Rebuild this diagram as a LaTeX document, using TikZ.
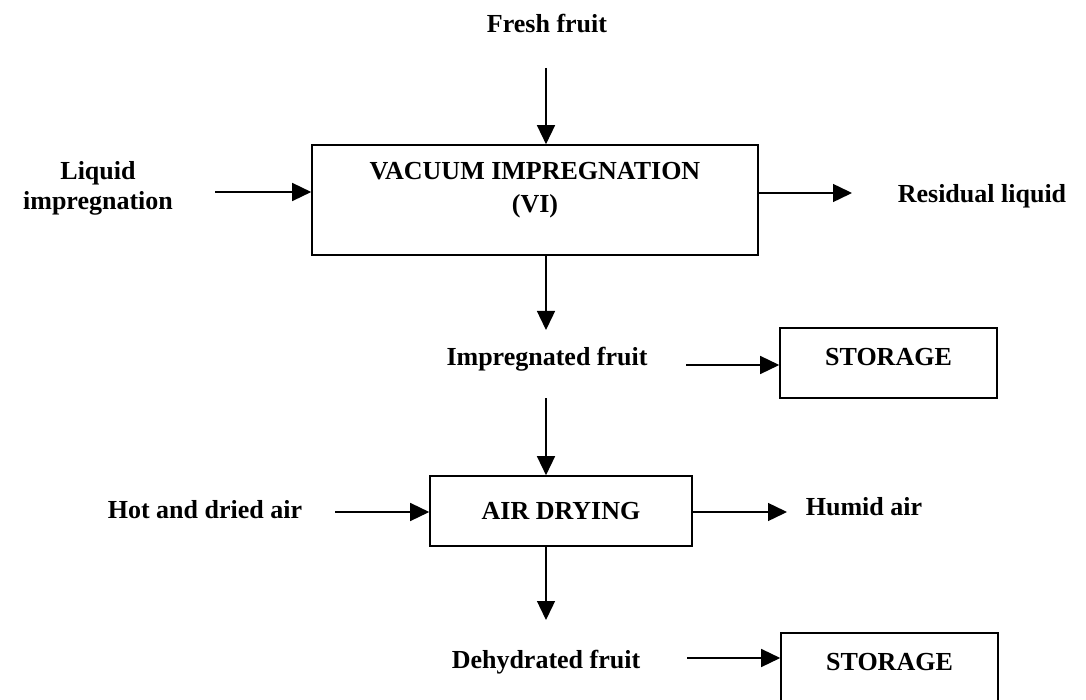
\documentclass[tikz,border=0pt]{standalone}
\usepackage{fontspec}
\setmainfont{Liberation Serif}
\usepackage{tikz}
\usetikzlibrary{arrows.meta,positioning,calc}

\begin{document}
\begin{tikzpicture}[
  x=1pt, y=-1pt,
  lbl/.style={font=\bfseries\fontsize{26}{30}\selectfont, inner sep=0pt, anchor=base},
  box/.style={rectangle, draw, line width=1.6pt, font=\bfseries\fontsize{26}{30}\selectfont},
  store/.style={box, minimum width=217pt, minimum height=70pt, text height=18pt, text depth=14pt},
  arr/.style={-{Triangle[length=19pt,width=18pt]}, line width=1.4pt}
]
  \useasboundingbox (0,0) rectangle (1086,700);

  \node[box, minimum width=446pt, minimum height=110pt] (vi) at (535,200) {};
  \node[lbl, align=center, anchor=center, font=\bfseries\fontsize{26}{33}\selectfont] (vitext) at (535,190) {VACUUM IMPREGNATION\\(VI)};
  \node[store] (store1) at (888.5,363) {STORAGE};
  \node[box, minimum width=262pt, minimum height=70pt] (drying) at (561,511) {AIR DRYING};
  \node[store] (store2) at (889.5,668) {STORAGE};

  \node[lbl] (fresh) at (547,33) {Fresh fruit};
  \node[lbl, align=center, anchor=center] (liquid) at (98,188) {Liquid\\impregnation};
  \node[lbl] (residual) at (982,203) {Residual liquid};
  \node[lbl] (impregnated) at (547,365) {Impregnated fruit};
  \node[lbl] (hot) at (205,518) {Hot and dried air};
  \node[lbl] (humid) at (864,515) {Humid air};
  \node[lbl] (dehydrated) at (546,668) {Dehydrated fruit};

  \coordinate (freshstart) at (546,68);
  \coordinate (liqstart) at (215,192);
  \coordinate (resend) at (852,193);
  \coordinate (impend) at (546,330);
  \coordinate (impstart) at (686,365);
  \coordinate (drystart) at (546,398);
  \coordinate (hotstart) at (335,512);
  \coordinate (humend) at (787,512);
  \coordinate (dehend) at (546,620);
  \coordinate (dehstart) at (687,658);

  \draw[arr] (freshstart) -- (freshstart |- vi.north);
  \draw[arr] (liqstart) -- (liqstart -| vi.west);
  \draw[arr] (resend -| vi.east) -- (resend);
  \draw[arr] (impend |- vi.south) -- (impend);
  \draw[arr] (impstart) -- (impstart -| store1.west);
  \draw[arr] (drystart) -- (drystart |- drying.north);
  \draw[arr] (hotstart) -- (hotstart -| drying.west);
  \draw[arr] (humend -| drying.east) -- (humend);
  \draw[arr] (dehend |- drying.south) -- (dehend);
  \draw[arr] (dehstart) -- (dehstart -| store2.west);
\end{tikzpicture}
\end{document}
